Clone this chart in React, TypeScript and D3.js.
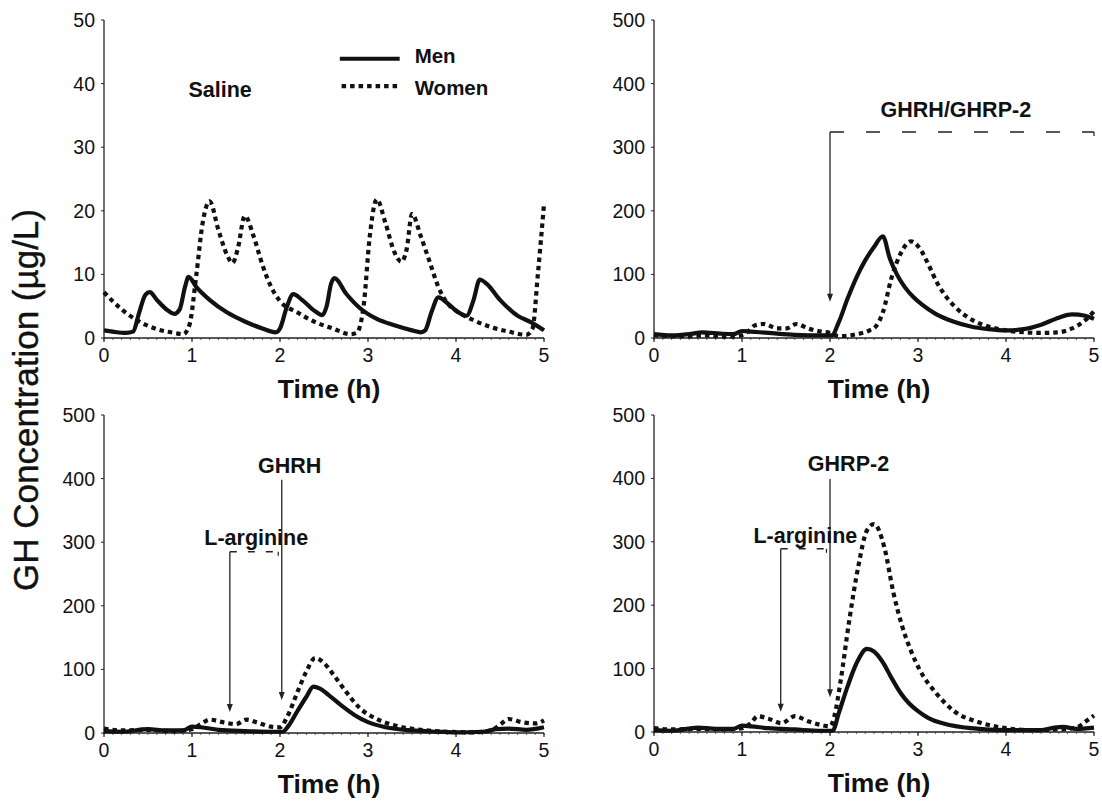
import React from "react";
import * as d3 from "d3";

const W = 1102;
const H = 806;
const FONT = "'Liberation Sans', Arial, Helvetica, sans-serif";

// time (h), GH (µg/L)
const salineMen: [number, number][] = [
  [0, 1.2], [0.1, 1.0], [0.25, 0.8], [0.33, 1.0], [0.4, 4], [0.47, 6.8], [0.52, 7.2], [0.6, 6],
  [0.7, 4.6], [0.8, 3.8], [0.86, 4.5], [0.92, 8], [0.96, 9.6], [1.05, 8], [1.2, 6], [1.4, 4],
  [1.6, 2.6], [1.8, 1.5], [1.95, 0.9], [2.0, 1.5], [2.08, 5], [2.15, 6.9], [2.25, 6], [2.4, 4.2],
  [2.48, 3.6], [2.53, 5], [2.58, 8.5], [2.62, 9.4], [2.75, 7], [2.9, 4.8], [3.1, 3], [3.3, 2],
  [3.5, 1.2], [3.6, 0.9], [3.65, 1.2], [3.72, 4], [3.8, 6.4], [3.9, 5.5], [4.0, 4.3], [4.12, 3.5],
  [4.2, 6], [4.27, 9.2], [4.35, 8.5], [4.5, 6], [4.7, 3.5], [4.85, 2.5], [5.0, 1.2],
];
const salineWomen: [number, number][] = [
  [0, 7.2], [0.2, 4.5], [0.4, 2.6], [0.6, 1.4], [0.8, 0.8], [0.9, 0.6], [0.97, 2], [1.05, 10],
  [1.12, 18], [1.2, 21.5], [1.3, 17], [1.4, 13], [1.46, 11.8], [1.52, 14], [1.6, 19.2], [1.7, 16],
  [1.8, 11.5], [1.9, 8], [2.0, 5.8], [2.2, 4], [2.4, 2.5], [2.6, 1.5], [2.8, 0.6], [2.87, 0.8],
  [2.95, 5], [3.02, 16], [3.1, 21.8], [3.2, 18], [3.3, 13.5], [3.38, 12], [3.44, 14], [3.5, 19.5],
  [3.6, 16], [3.7, 12], [3.8, 8], [3.9, 5.5], [4.0, 4.3], [4.2, 2.8], [4.4, 1.7], [4.6, 1],
  [4.8, 0.5], [4.87, 1.5], [4.93, 10], [5.0, 21],
];

const comboMen: [number, number][] = [
  [0, 6], [0.2, 4], [0.4, 6], [0.55, 9], [0.75, 7], [0.9, 6], [1.0, 11], [1.1, 10], [1.3, 8],
  [1.6, 5], [1.9, 4], [2.02, 4], [2.1, 25], [2.2, 62], [2.3, 95], [2.4, 122], [2.5, 143],
  [2.6, 160], [2.68, 125], [2.76, 100], [2.85, 80], [2.95, 64], [3.05, 52], [3.2, 38], [3.4, 26],
  [3.6, 18], [3.8, 14], [4.0, 12], [4.2, 14], [4.4, 21], [4.6, 32], [4.75, 37], [4.9, 35], [5.0, 30],
];
const comboWomen: [number, number][] = [
  [0, 5], [0.2, 3], [0.4, 3], [0.6, 4], [0.8, 2], [0.95, 3], [1.05, 8], [1.15, 20], [1.25, 22],
  [1.4, 15], [1.5, 15], [1.62, 22], [1.75, 15], [1.9, 10], [2.0, 8], [2.1, 3], [2.3, 6],
  [2.45, 12], [2.52, 18], [2.6, 40], [2.7, 95], [2.8, 132], [2.92, 152], [3.02, 141], [3.12, 115],
  [3.22, 86], [3.32, 65], [3.42, 49], [3.62, 28], [3.8, 18], [4.0, 12], [4.2, 9], [4.4, 8],
  [4.6, 9], [4.75, 15], [4.9, 28], [5.0, 42],
];

const ghrhMen: [number, number][] = [
  [0, 3], [0.2, 2], [0.5, 6], [0.7, 4], [0.9, 4], [1.0, 10], [1.1, 9], [1.3, 5], [1.6, 3],
  [1.9, 2], [2.03, 2], [2.1, 12], [2.2, 35], [2.3, 57], [2.38, 73], [2.45, 70], [2.55, 60],
  [2.7, 43], [2.85, 28], [3.0, 17], [3.2, 9], [3.5, 4], [3.8, 2], [4.0, 1], [4.3, 2], [4.45, 6],
  [4.6, 7], [4.8, 5], [5.0, 9],
];
const ghrhWomen: [number, number][] = [
  [0, 7], [0.2, 4], [0.5, 5], [0.8, 3], [1.0, 6], [1.1, 14], [1.2, 21], [1.35, 17], [1.5, 14],
  [1.62, 21], [1.75, 16], [1.9, 10], [2.0, 9], [2.08, 25], [2.2, 65], [2.3, 97], [2.4, 118],
  [2.5, 110], [2.6, 93], [2.75, 65], [2.9, 40], [3.1, 22], [3.3, 12], [3.6, 5], [3.9, 2],
  [4.2, 1], [4.4, 4], [4.5, 13], [4.6, 22], [4.75, 17], [4.9, 15], [5.0, 20],
];

const ghrpMen: [number, number][] = [
  [0, 3], [0.2, 2], [0.5, 7], [0.7, 5], [0.9, 5], [1.0, 10], [1.1, 9], [1.3, 6], [1.6, 4],
  [1.9, 2], [2.03, 2], [2.1, 30], [2.2, 72], [2.3, 108], [2.42, 131], [2.5, 127], [2.6, 110],
  [2.7, 85], [2.8, 62], [2.9, 45], [3.0, 33], [3.12, 22], [3.3, 13], [3.6, 6], [4.0, 3], [4.4, 3],
  [4.55, 7], [4.65, 8], [4.8, 5], [5.0, 7],
];
const ghrpWomen: [number, number][] = [
  [0, 6], [0.2, 4], [0.5, 5], [0.8, 4], [1.0, 6], [1.1, 14], [1.18, 25], [1.3, 21], [1.45, 14],
  [1.6, 25], [1.75, 17], [1.9, 11], [2.0, 9], [2.05, 25], [2.12, 80], [2.22, 177], [2.32, 260],
  [2.42, 318], [2.5, 328], [2.62, 290], [2.72, 220], [2.82, 167], [2.92, 128], [3.02, 98],
  [3.22, 59], [3.41, 33], [3.7, 15], [4.0, 6], [4.3, 3], [4.6, 4], [4.8, 7], [4.9, 16], [5.0, 26],
];

const xTicks = [0, 1, 2, 3, 4, 5];
const minorTicks = d3.range(0, 5.001, 0.1);

// annotation texts, in data units [t, value]
type Label = { text: string; t: number; v: number };
type Arrow = { t: number; from: number; to: number; dashTo?: number; dash?: string };

const panels = [
  {
    left: 104, top: 20, bottom: 338, yMax: 50, yStep: 10,
    men: salineMen, women: salineWomen,
    labels: [{ text: "Saline", t: 1.32, v: 37.9 }] as Label[],
    arrows: [] as Arrow[],
    legend: true,
  },
  {
    left: 654, top: 20, bottom: 338, yMax: 500, yStep: 100,
    men: comboMen, women: comboWomen,
    labels: [{ text: "GHRH/GHRP-2", t: 3.43, v: 347 }] as Label[],
    arrows: [{ t: 2.0, from: 324, to: 57, dashTo: 5.0, dash: "14 22" }] as Arrow[],
    legend: false,
  },
  {
    left: 104, top: 415, bottom: 733, yMax: 500, yStep: 100,
    men: ghrhMen, women: ghrhWomen,
    labels: [
      { text: "L-arginine", t: 1.73, v: 296 },
      { text: "GHRH", t: 2.11, v: 409 },
    ] as Label[],
    arrows: [
      { t: 1.43, from: 285, to: 33, dashTo: 1.98, dash: "7 11" },
      { t: 2.02, from: 398, to: 52 },
    ] as Arrow[],
    legend: false,
  },
  {
    left: 654, top: 415, bottom: 732, yMax: 500, yStep: 100,
    men: ghrpMen, women: ghrpWomen,
    labels: [
      { text: "L-arginine", t: 1.72, v: 298 },
      { text: "GHRP-2", t: 2.21, v: 412 },
    ] as Label[],
    arrows: [
      { t: 1.44, from: 289, to: 32, dashTo: 1.96, dash: "7 11" },
      { t: 2.0, from: 399, to: 55 },
    ] as Arrow[],
    legend: false,
  },
];

const DOTS = "4.5 4";
const INK = "#111";

function Panel(props: { p: (typeof panels)[number] }) {
  const { p } = props;
  const x = d3.scaleLinear().domain([0, 5]).range([p.left, p.left + 440]);
  const y = d3.scaleLinear().domain([0, p.yMax]).range([p.bottom, p.top]);
  const line = d3
    .line<[number, number]>()
    .x((d) => x(d[0]))
    .y((d) => y(d[1]))
    .curve(d3.curveMonotoneX);
  const yTicks = d3.range(0, p.yMax + 0.001, p.yStep);

  return (
    <g>
      {/* axes */}
      <line x1={x(0)} x2={x(0)} y1={y(p.yMax)} y2={y(0) + 1} stroke="#222" strokeWidth={1.3} />
      <line x1={x(0)} x2={x(5)} y1={y(0)} y2={y(0)} stroke="#222" strokeWidth={1.6} />
      {yTicks.map((t) => (
        <g key={"y" + t}>
          <line x1={x(0) - 3} x2={x(0)} y1={y(t)} y2={y(t)} stroke="#222" strokeWidth={1} />
          <text x={x(0) - 9} y={y(t)} dy="0.36em" textAnchor="end" fontSize={19.5} fontFamily={FONT} fill={INK}>
            {t}
          </text>
        </g>
      ))}
      {minorTicks.map((t, i) => (
        <line key={"m" + i} x1={x(t)} x2={x(t)} y1={y(0)} y2={y(0) + 2} stroke="#333" strokeWidth={0.8} />
      ))}
      {xTicks.map((t) => (
        <g key={"x" + t}>
          <line x1={x(t)} x2={x(t)} y1={y(0)} y2={y(0) + 4} stroke="#222" strokeWidth={1.2} />
          <text x={x(t)} y={y(0) + 24} textAnchor="middle" fontSize={19.5} fontFamily={FONT} fill={INK}>
            {t}
          </text>
        </g>
      ))}
      <text
        x={(x(0) + x(5)) / 2 + 5}
        y={y(0) + 60}
        textAnchor="middle"
        fontSize={26.5}
        fontWeight="bold"
        fontFamily={FONT}
        fill={INK}
      >
        Time (h)
      </text>

      {/* series */}
      <path d={line(p.women) || ""} fill="none" stroke={INK} strokeWidth={4.2} strokeDasharray={DOTS} />
      <path d={line(p.men) || ""} fill="none" stroke={INK} strokeWidth={4.2} strokeLinejoin="round" />

      {/* infusion arrows */}
      {p.arrows.map((a, i) => {
        const ax = x(a.t);
        const y0 = y(a.from);
        const y1 = y(a.to);
        return (
          <g key={"a" + i}>
            <line x1={ax} x2={ax} y1={y0} y2={y1 - 6} stroke="#222" strokeWidth={1.3} />
            <path d={`M${ax},${y1} L${ax - 3},${y1 - 8} L${ax + 3},${y1 - 8} Z`} fill="#222" />
            {a.dashTo !== undefined && (
              <>
                <line x1={ax} x2={x(a.dashTo)} y1={y0} y2={y0} stroke="#222" strokeWidth={1.4} strokeDasharray={a.dash} />
                <line x1={x(a.dashTo)} x2={x(a.dashTo)} y1={y0} y2={y0 + 4} stroke="#222" strokeWidth={1.2} />
              </>
            )}
          </g>
        );
      })}
      {p.labels.map((l, i) => (
        <text
          key={"l" + i}
          x={x(l.t)}
          y={y(l.v)}
          textAnchor="middle"
          fontSize={21.5}
          fontWeight="bold"
          fontFamily={FONT}
          fill={INK}
        >
          {l.text}
        </text>
      ))}

      {p.legend && (
        <g>
          <line x1={x(2.68)} x2={x(3.36)} y1={y(43.9)} y2={y(43.9)} stroke={INK} strokeWidth={4} />
          <text x={x(3.53)} y={y(43.2)} fontSize={20.5} fontWeight="bold" fontFamily={FONT} fill={INK}>
            Men
          </text>
          <line x1={x(2.7)} x2={x(3.36)} y1={y(39.6)} y2={y(39.6)} stroke={INK} strokeWidth={4.2} strokeDasharray={DOTS} />
          <text x={x(3.53)} y={y(38.2)} fontSize={20.5} fontWeight="bold" fontFamily={FONT} fill={INK}>
            Women
          </text>
        </g>
      )}
    </g>
  );
}

export default function App() {
  return (
    <svg
      width={W}
      height={H}
      viewBox={`0 0 ${W} ${H}`}
      style={{ position: "absolute", left: 0, top: 0, background: "#fff" }}
    >
      <rect width={W} height={H} fill="#fff" />
      <text
        transform="translate(38, 400) rotate(-90)"
        textAnchor="middle"
        fontSize={35}
        fontFamily={FONT}
        fill={INK}
        stroke={INK}
        strokeWidth={0.4}
      >
        GH Concentration (µg/L)
      </text>
      {panels.map((p, i) => (
        <Panel key={i} p={p} />
      ))}
    </svg>
  );
}
